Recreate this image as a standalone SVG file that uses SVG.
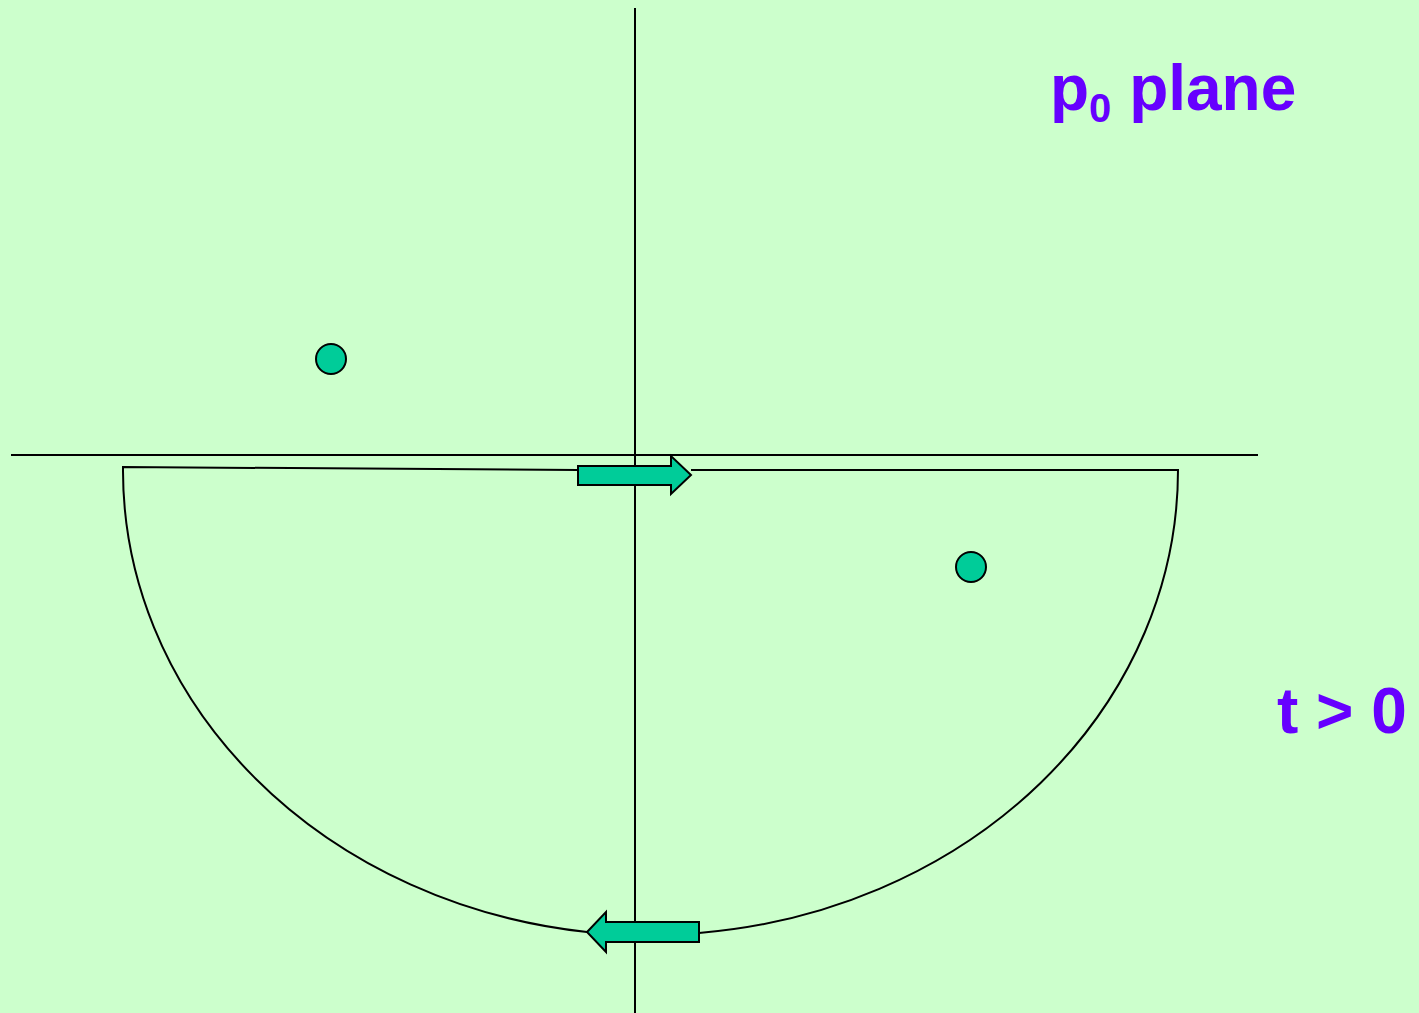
<svg xmlns="http://www.w3.org/2000/svg" width="1419" height="1013" viewBox="0 0 1419 1013">
<style>
.ax{stroke:#000;stroke-width:2;fill:none}
.ct{stroke:#000;stroke-width:2;fill:none}
.arr{fill:#00CC99;stroke:#000;stroke-width:2;stroke-linejoin:miter}
.dot{fill:#00CC99;stroke:#000;stroke-width:2}
.lbl{font-family:"Liberation Sans",Arial,sans-serif;font-weight:bold;fill:#6600FF}
</style>
<rect width="1419" height="1013" fill="#CCFFCC"/>
<g id="connectors">
<line class="ax" x1="635" y1="8" x2="635" y2="1013"/>
<line class="ax" x1="11" y1="455" x2="1258" y2="455"/>
<path class="ct" d="M578,470 L123,467 A528,465 0 0 0 587,932"/>
<path class="ct" d="M699,933 A528,465 0 0 0 1178,470 L691,470"/>
</g>
<g id="arrow-top"><polygon class="arr" points="578,466 671,466 671,456 691,475 671,494 671,485 578,485"/></g>
<g id="arrow-bottom"><polygon class="arr" points="699,922 606,922 606,912 587,932 606,952 606,942 699,942"/></g>
<g id="pole1"><circle class="dot" cx="331" cy="359" r="15"/></g>
<g id="pole2"><circle class="dot" cx="971" cy="567" r="15"/></g>
<g id="title"><text class="lbl" x="1050" y="110" font-size="64">p<tspan font-size="40" dy="12">0</tspan><tspan dy="-12"> plane</tspan></text></g>
<g id="cond"><text class="lbl" x="1277" y="733" font-size="64">t &gt; 0</text></g>
</svg>
